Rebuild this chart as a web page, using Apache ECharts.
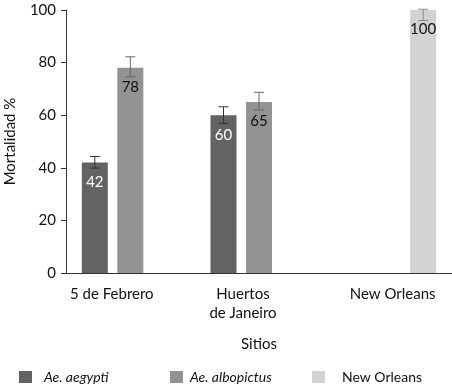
<!DOCTYPE html>
<html><head><meta charset="utf-8">
<script src="https://cdn.jsdelivr.net/npm/echarts@6/dist/echarts.min.js"></script>
<style>html,body{margin:0;padding:0;background:#fff}#c{width:452px;height:388px}</style>
</head><body><div id="c"></div>
<script>
const categories = ['5 de Febrero', 'Huertos\nde Janeiro', 'New Orleans'];
const seriesNames = ['Ae. aegypti', 'Ae. albopictus', 'New Orleans'];
const aegypti = [42, 60, null];
const albopictus = [78, 65, null];
const newOrleans = [null, null, 100];
const aegyptiErrLow = [39.9, 56.9, null];
const aegyptiErrHigh = [44.3, 63.2, null];
const albopictusErrLow = [74.6, 62.0, null];
const albopictusErrHigh = [82.2, 68.7, null];
const newOrleansErrLow = [null, null, 96];
const newOrleansErrHigh = [null, null, 100.3];
const yTicks = [0, 20, 40, 60, 80, 100];

const FONT = 'Lato';
const BAR_W = 26, GAP = 9.5;
const colors = ['#636363', '#939393', '#d2d2d2'];
const errColors = ['#333333', '#666666', '#888888'];
const labelColors = ['#ffffff', '#111111', '#111111'];

function errSeries(idx, low, high) {
  const data = low.map((l, i) => l == null ? null : [i, l, high[i]]).filter(d => d);
  return {
    type: 'custom', z: 10, silent: true,
    data: data,
    encode: { x: 0, y: [1, 2] },
    renderItem: function (params, api) {
      const ci = api.value(0);
      const offset = (idx - 1) * (BAR_W + GAP);
      const lo = api.coord([ci, api.value(1)]);
      const hi = api.coord([ci, api.value(2)]);
      const x = lo[0] + offset;
      const hw = 5;
      const st = { stroke: errColors[idx], lineWidth: 1 };
      return { type: 'group', children: [
        { type: 'line', shape: { x1: x, y1: hi[1], x2: x, y2: lo[1] }, style: st },
        { type: 'line', shape: { x1: x - hw, y1: hi[1], x2: x + hw, y2: hi[1] }, style: st },
        { type: 'line', shape: { x1: x - hw, y1: lo[1], x2: x + hw, y2: lo[1] }, style: st }
      ]};
    }
  };
}

function barSeries(idx, data) {
  return {
    name: seriesNames[idx], type: 'bar', data: data,
    barWidth: BAR_W, barGap: (GAP / BAR_W * 100) + '%',
    itemStyle: { color: colors[idx] },
    label: { show: true, position: 'insideTop', distance: 12, color: labelColors[idx],
      fontFamily: FONT, fontSize: 15 }
  };
}

const labelShift = { c0: [0, 37, 0, 0], c1: [0, 32, 0, 0], c2: [0, 0, 0, 10] };
const richBase = { fontFamily: FONT, fontSize: 15, lineHeight: 19, color: '#111' };

const chart = echarts.init(document.getElementById('c'));
chart.setOption({
  animation: false,
  textStyle: { fontFamily: FONT },
  grid: { left: 66, right: 0, top: 10, bottom: 115, containLabel: false, outerBoundsMode: 'none' },
  xAxis: {
    type: 'category', data: categories,
    name: 'Sitios', nameLocation: 'middle', nameGap: 64,
    nameTextStyle: { fontFamily: FONT, fontSize: 15, color: '#111' },
    axisLine: { lineStyle: { color: '#333', width: 1 } },
    axisTick: { show: false },
    axisLabel: {
      interval: 0, margin: 12, color: '#111', fontFamily: FONT, fontSize: 15, lineHeight: 19,
      formatter: function (v, i) {
        return v.split('\n').map(s => '{c' + i + '|' + s + '}').join('\n');
      },
      rich: {
        c0: Object.assign({ padding: labelShift.c0 }, richBase),
        c1: Object.assign({ padding: labelShift.c1 }, richBase),
        c2: Object.assign({ padding: labelShift.c2 }, richBase)
      }
    }
  },
  yAxis: {
    type: 'value', min: yTicks[0], max: yTicks[yTicks.length - 1], interval: 20,
    name: 'Mortalidad %', nameLocation: 'middle', nameGap: 48,
    nameTextStyle: { fontFamily: FONT, fontSize: 15, color: '#111' },
    axisLine: { show: true, lineStyle: { color: '#333', width: 1 } },
    axisTick: { show: true, length: 5, lineStyle: { color: '#333' } },
    axisLabel: { margin: 10, color: '#111', fontFamily: FONT, fontSize: 15 },
    splitLine: { show: false }
  },
  legend: [0, 1, 2].map((i) => ({
    data: [{ name: seriesNames[i], textStyle: { fontStyle: i < 2 ? 'italic' : 'normal' } }],
    left: [14, 165, 307][i], top: 365,
    icon: 'rect', itemWidth: 13, itemHeight: 12, itemGap: 0,
    textStyle: { fontFamily: FONT, fontSize: 14, color: '#111', padding: [0, 0, 0, [7, 2, 12][i]] },
    selectedMode: false
  })),
  series: [
    barSeries(0, aegypti), barSeries(1, albopictus), barSeries(2, newOrleans),
    errSeries(0, aegyptiErrLow, aegyptiErrHigh),
    errSeries(1, albopictusErrLow, albopictusErrHigh),
    errSeries(2, newOrleansErrLow, newOrleansErrHigh)
  ]
});
</script></body></html>
